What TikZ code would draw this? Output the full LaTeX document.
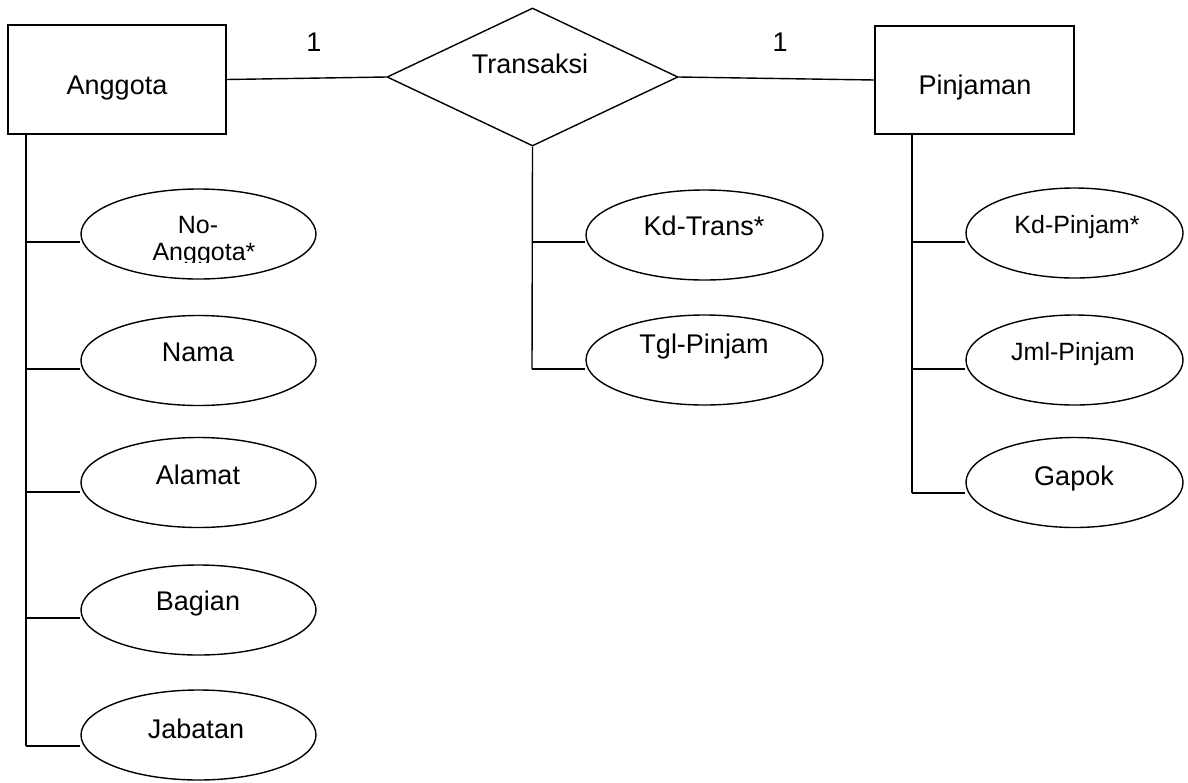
\documentclass[tikz,border=0pt]{standalone}
\usepackage{fontspec}
\setmainfont{Liberation Sans}
\usetikzlibrary{shapes.geometric}
\begin{document}
\begin{tikzpicture}[x=1pt,y=-1pt,
  ent/.style={draw, line width=1.5pt, rectangle, inner sep=0pt},
  rel/.style={draw, line width=1.4pt, diamond, inner sep=0pt,
              minimum width=291pt, minimum height=138pt},
  attrL/.style={draw, line width=1.4pt, ellipse, inner sep=0pt,
                minimum width=235pt, minimum height=90pt},
  attrM/.style={attrL, minimum width=237pt},
  attrR/.style={attrL, minimum width=217pt},
  txt/.style={anchor=base, inner sep=0pt, font=\fontsize{27}{32}\selectfont},
  smalltxt/.style={txt, font=\fontsize{25}{28}\selectfont},
  link/.style={line width=1.4pt}]
\useasboundingbox (0,0) rectangle (1188,782);

% entities and relationship
\node[ent, minimum width=218pt, minimum height=109pt] (ang) at (117,79.5) {};
\node[ent, minimum width=199pt, minimum height=108pt] (pin) at (974.5,80) {};
\node[rel] (trx) at (532.5,77) {};

\node[txt] (t-ang) at (117,94) {Anggota};
\node[txt] (t-pin) at (975,94) {Pinjaman};
\node[txt] (t-trx) at (530,73) {Transaksi};

\draw[link] (ang.east) -- (trx.west);
\draw[link] (trx.east) -- (pin.west);
\node[txt] (c1) at (314,51) {1};
\node[txt] (c2) at (780,51) {1};

% attributes of Anggota
\node[attrL] (noang) at (198.5,234) {};
\node[attrL] (nama)  at (198.5,360.5) {};
\node[attrL] (alm)   at (198.5,482.5) {};
\node[attrL] (bag)   at (198.5,610) {};
\node[attrL] (jab)   at (198.5,735) {};

\begin{scope}
  \clip (85,185) rectangle (315,262);
  \node[smalltxt] (t-noang1) at (198,233) {No-};
  \node[smalltxt] (t-noang2) at (204,260) {Anggota*};
\end{scope}
\node[txt] (t-nama) at (198,361) {Nama};
\node[txt] (t-alm)  at (198,484) {Alamat};
\node[txt] (t-bag)  at (198,610) {Bagian};
\node[txt] (t-jab)  at (196,738) {Jabatan};

\coordinate (a1) at (26,242);
\coordinate (a2) at (26,369);
\coordinate (a3) at (26,492);
\coordinate (a4) at (26,618);
\coordinate (a5) at (26,746);
\draw[link] (a5 |- ang.south) -- (a5);
\draw[link] (a1) -- (a1 -| noang.west);
\draw[link] (a2) -- (a2 -| nama.west);
\draw[link] (a3) -- (a3 -| alm.west);
\draw[link] (a4) -- (a4 -| bag.west);
\draw[link] (a5) -- (a5 -| jab.west);

% attributes of Transaksi
\node[attrM] (kdt) at (704.5,235) {};
\node[attrM] (tgl) at (704.5,360) {};
\node[txt] (t-kdt) at (704,235) {Kd-Trans*};
\node[txt] (t-tgl) at (704,353) {Tgl-Pinjam};

\coordinate (m1) at (532,242);
\coordinate (m2) at (532,369);
\draw[link] (trx.south) -- (m2);
\draw[link] (m1) -- (m1 -| kdt.west);
\draw[link] (m2) -- (m2 -| tgl.west);

% attributes of Pinjaman
\node[attrR] (kdp) at (1074.5,233) {};
\node[attrR] (jml) at (1074.5,360) {};
\node[attrR] (gpk) at (1074.5,482.5) {};
\node[smalltxt] (t-kdp) at (1077,233) {Kd-Pinjam*};
\node[smalltxt] (t-jml) at (1073,360) {Jml-Pinjam};
\node[txt] (t-gpk) at (1074,485) {Gapok};

\coordinate (p1) at (912,242);
\coordinate (p2) at (912,369);
\coordinate (p3) at (912,493);
\draw[link] (p3 |- pin.south) -- (p3);
\draw[link] (p1) -- (p1 -| kdp.west);
\draw[link] (p2) -- (p2 -| jml.west);
\draw[link] (p3) -- (p3 -| gpk.west);
\end{tikzpicture}
\end{document}
